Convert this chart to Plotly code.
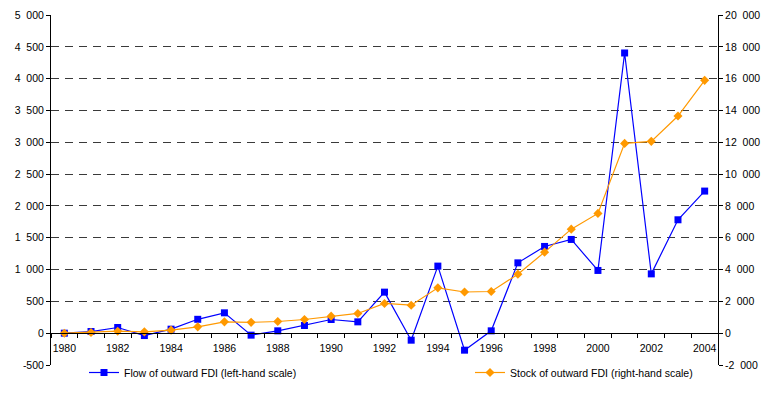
import plotly.graph_objects as go

years = list(range(1980, 2005))
flow_outward_fdi = [0, 26, 89, -37, 63, 218, 320, -31, 37, 121, 215, 178, 645, -110, 1054,
                    -267, 37, 1105, 1363, 1473, 986, 4403, 932, 1782, 2233]
stock_outward_fdi = [0, 42, 126, 84, 190, 398, 713, 680, 735, 860, 1070, 1240, 1870, 1760, 2850,
                     2590, 2620, 3710, 5094, 6540, 7528, 11930, 12057, 13648, 15893]

left_ticks = list(range(-500, 5001, 500))
right_ticks = list(range(-2000, 20001, 2000))
x_label_years = list(range(1980, 2005, 2))
x_boundaries = [y + 0.5 for y in range(1979, 2005)]

def fmt(v):
    return f"{v:,}".replace(",", "\u2007")

FONT = "Liberation Sans, Arial, sans-serif"
FS = 10.5

fig = go.Figure()
fig.add_trace(go.Scatter(
    x=years, y=flow_outward_fdi, mode="lines+markers",
    name="Flow of outward FDI (left-hand scale)",
    line=dict(color="#0000FF", width=1.2),
    marker=dict(symbol="square", size=7, color="#0000FF"),
    yaxis="y", legend="legend"))
fig.add_trace(go.Scatter(
    x=years, y=stock_outward_fdi, mode="lines+markers",
    name="Stock of outward FDI (right-hand scale)",
    line=dict(color="#FF9900", width=1.2),
    marker=dict(symbol="diamond", size=7, color="#FF9900"),
    yaxis="y2", legend="legend2"))

legend_common = dict(orientation="h", xanchor="left", y=0.02, yanchor="top",
                     font=dict(family=FONT, size=FS, color="black"),
                     bgcolor="rgba(0,0,0,0)", itemwidth=30)

fig.update_layout(
    width=771, height=407,
    margin=dict(l=51, r=53, t=15, b=42, autoexpand=False),
    paper_bgcolor="white", plot_bgcolor="white",
    font=dict(family=FONT, size=FS, color="black"),
    showlegend=True,
    legend=dict(x=(84 - 51) / 667, **legend_common),
    legend2=dict(x=(470 - 51) / 667, **legend_common),
    xaxis=dict(
        range=[1979.5, 2004.5],
        anchor="free", position=500 / 5500,
        tickmode="array", tickvals=x_label_years, ticktext=[str(y) for y in x_label_years],
        ticks="", showgrid=False, zeroline=False,
        showline=True, linecolor="black", linewidth=1,
        ticklabelstandoff=5,
        minor=dict(tickmode="array", tickvals=x_boundaries, ticks="outside",
                   ticklen=4, tickcolor="black", tickwidth=1, showgrid=False),
        tickfont=dict(size=FS, color="black"),
    ),
    yaxis=dict(
        range=[-500, 5000],
        tickmode="array", tickvals=left_ticks, ticktext=[fmt(v) for v in left_ticks],
        ticks="outside", ticklen=4, tickcolor="black",
        showline=True, linecolor="black", linewidth=1,
        showgrid=True, gridcolor="#3a3a3a", griddash="8px,6px", gridwidth=1,
        zeroline=False,
        tickfont=dict(size=FS, color="black"),
    ),
    yaxis2=dict(
        range=[-2000, 20000], overlaying="y", side="right",
        tickmode="array", tickvals=right_ticks, ticktext=[fmt(v) for v in right_ticks],
        ticks="outside", ticklen=4, tickcolor="black",
        showline=True, linecolor="black", linewidth=1,
        showgrid=False, zeroline=False,
        tickfont=dict(size=FS, color="black"),
    ),
)

fig.write_html("out.html", config={"displayModeBar": False},
               post_script="document.body.style.margin='0px';")
